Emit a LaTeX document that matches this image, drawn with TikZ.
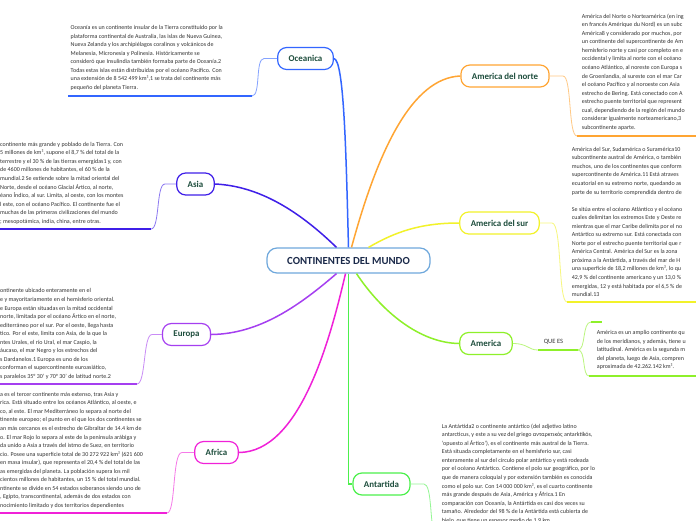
\documentclass[tikz,border=0pt]{standalone}
\usepackage{fontspec}
\setmainfont{Carlito}
\definecolor{oceC}{HTML}{3366FF}
\definecolor{asiaC}{HTML}{3F1FE8}
\definecolor{euroC}{HTML}{A53FF0}
\definecolor{afriC}{HTML}{F021D8}
\definecolor{antaC}{HTML}{4CF04C}
\definecolor{amerC}{HTML}{8EF02A}
\definecolor{surC}{HTML}{F2F22A}
\definecolor{norteC}{HTML}{FFA533}
\definecolor{cenC}{HTML}{6FA8DC}
\definecolor{lblC}{HTML}{1D4D3C}
\definecolor{titC}{HTML}{1B2A4A}
\definecolor{txtC}{HTML}{333333}
\tikzset{
  topic/.style={draw=#1, line width=1.2pt, rounded corners=9pt, fill=white,
    inner xsep=11pt, minimum height=22pt, text=lblC,
    font=\fontsize{8.9}{10}\selectfont\bfseries},
  desc/.style={anchor=north west, align=left, inner sep=0pt, text=txtC,
    font=\fontsize{6}{8.55}\selectfont},
  branch/.style={line width=1.5pt, draw=#1},
  twig/.style={line width=0.8pt, draw=#1!60},
  uline/.style={line width=1.5pt, draw=#1},
}
\begin{document}
\begin{tikzpicture}[x=1pt,y=-1pt]
  \useasboundingbox (0,0) rectangle (696,520);
  \clip (0,0) rectangle (696,520);
  \fill[white] (0,0) rectangle (696,520);

  % central topic
  \node[draw=cenC, line width=1.2pt, rounded corners=10pt, fill=white,
    minimum width=163pt, minimum height=25pt, text=titC,
    font=\fontsize{10.8}{12}\selectfont\bfseries] (cen) at (348.5,260.5) {CONTINENTES DEL MUNDO};

  % continents
  \foreach \x/\y/\name/\lbl/\col in {
      305.5/58.5/oce/Oceanica/oceC,
      195.5/184/asia/Asia/asiaC,
      186.5/334.5/euro/Europa/euroC,
      216.5/452.5/afri/Africa/afriC,
      381.5/484/anta/Antartida/antaC,
      505/76/norte/America del norte/norteC,
      499.5/223/sur/America del sur/surC,
      486/343.5/amer/America/amerC}
    \node[topic=\col] (\name) at (\x,\y) {\lbl};

  % branches from the centre
  \draw[branch=oceC] (cen.north) .. controls (346,150) and (344,60) .. (oce.east);
  \draw[branch=norteC] ([xshift=3pt]cen.north) .. controls (378,150) and (412,78) .. (norte.west);
  \draw[branch=surC] ([xshift=20pt]cen.north) .. controls (395,232) and (420,223) .. (sur.west);
  \draw[branch=asiaC] ([xshift=-12pt]cen.north) .. controls (300,212) and (260,186) .. (asia.east);
  \draw[branch=euroC] ([xshift=-12pt]cen.south) .. controls (300,305) and (260,334) .. (euro.east);
  \draw[branch=afriC] ([xshift=-3pt]cen.south) .. controls (330,340) and (300,452) .. (afri.east);
  \draw[branch=antaC] (cen.south) |- (anta.west);
  \draw[branch=amerC] ([xshift=8pt]cen.south) .. controls (382,312) and (420,343) .. (amer.west);

  % leaves to the notes
  \coordinate (oceU) at (252,96);
  \coordinate (asiaU) at (151,229);
  \coordinate (euroU) at (137,384);
  \coordinate (afriU) at (167,513);
  \coordinate (antaU) at (434,530);
  \coordinate (norteU) at (577,136);
  \coordinate (surU) at (567,302);
  \coordinate (queU) at (538,350);
  \coordinate (queV) at (578,350);
  \coordinate (amerU) at (589,376);
  \coordinate (amerW) at (591,322);
  \draw[twig=oceC] (oce.west) -- (264,58.5) .. controls (255,58.5) and (261,96) .. (oceU);
  \draw[uline=oceC] (oceU) -- (68,96);
  \draw[twig=asiaC] (asia.west) -- (165,184) .. controls (156,184) and (160,229) .. (asiaU);
  \draw[uline=asiaC] (asiaU) -- (0,229);
  \draw[twig=euroC] (euro.west) -- (152,334.5) .. controls (143,334.5) and (146,384) .. (euroU);
  \draw[uline=euroC] (euroU) -- (0,384);
  \draw[twig=afriC] (afri.west) -- (182,452.5) .. controls (172,452.5) and (176,513) .. (afriU);
  \draw[uline=afriC] (afriU) -- (0,513);
  \draw[twig=antaC] (anta.east) -- (424,484) .. controls (432,484) and (430,525) .. (antaU);
  \draw[twig=norteC] (norte.east) -- (563,76) .. controls (572,76) and (568,136) .. (norteU);
  \draw[uline=norteC] (norteU) -- (696,136);
  \draw[twig=surC] (sur.east) -- (552,223) .. controls (562,223) and (558,302) .. (surU);
  \draw[uline=surC] (surU) -- (696,302);
  \draw[twig=amerC] (amer.east) .. controls (528,343.5) and (528,350) .. (queU);
  \draw[uline=amerC] (queU) -- (queV);
  \draw[twig=amerC] (queV) .. controls (586,350) and (582,322) .. (amerW);
  \draw[uline=amerC] (amerW) -- (602,322);
  \draw[twig=amerC] (queV) .. controls (586,350) and (582,376) .. (amerU);
  \draw[uline=amerC] (amerU) -- (696,376);
  \node[text=txtC, inner sep=0pt, font=\fontsize{6.5}{8}\selectfont] (que) at (553.5,342.3) {QUE ES};

  % notes
  \node[desc] (oceTxt) at (70.5,25.2) {Oceanía es un continente insular de la Tierra constituido por la\\
plataforma continental de Australia, las islas de Nueva Guinea,\\
Nueva Zelanda y los archipiélagos coralinos y volcánicos de\\
Melanesia, Micronesia y Polinesia. Históricamente se\\
consideró que Insulindia también formaba parte de Oceanía.2\\
Todas estas islas están distribuidas por el océano Pacífico. Con\\
una extensión de 8 542 499 km²,1 se trata del continente más\\
pequeño del planeta Tierra.};
  \node[desc] (asiaTxt) at (0,141.9) {continente más grande y poblado de la Tierra. Con\\
5 millones de km², supone el 8,7 \% del total de la\\
terrestre y el 30 \% de las tierras emergidas1 y, con\\
de 4600 millones de habitantes, el 60 \% de la\\
mundial.2 Se extiende sobre la mitad oriental del\\
Norte, desde el océano Glacial Ártico, al norte,\\
éano Índico, al sur. Limita, al oeste, con los montes\\
l este, con el océano Pacífico. El continente fue el\\
muchas de las primeras civilizaciones del mundo\\
; mesopotámica, india, china, entre otras.};
  \node[desc] (euroTxt) at (0,288.6) {ontinente ubicado enteramente en el\\
e y mayoritariamente en el hemisferio oriental.\\
e Europa están situadas en la mitad occidental\\
norte, limitada por el océano Ártico en el norte,\\
editerráneo por el sur. Por el oeste, llega hasta\\
tico. Por el este, limita con Asia, de la que la\\
ntes Urales, el río Ural, el mar Caspio, la\\
áucaso, el mar Negro y los estrechos del\\
s Dardanelos.1 Europa es uno de los\\
conforman el supercontinente euroasiático,\\
s paralelos 35° 30' y 70° 30' de latitud norte.2};
  \node[desc] (afriTxt) at (0,391.9) {a es el tercer continente más extenso, tras Asia y\\
rica. Está situado entre los océanos Atlántico, al oeste, e\\
co, al este. El mar Mediterráneo lo separa al norte del\\
tinente europeo; el punto en el que los dos continentes se\\
an más cercanos es el estrecho de Gibraltar de 14.4 km de\\
o. El mar Rojo lo separa al este de la península arábiga y\\
da unido a Asia a través del istmo de Suez, en territorio\\
cio. Posee una superficie total de 30 272 922 km² (621 600\\
en masa insular), que representa el 20,4 \% del total de las\\
as emergidas del planeta. La población supera los mil\\
cientos millones de habitantes, un 15 \% del total mundial.\\
ntinente se divide en 54 estados soberanos siendo uno de\\
, Egipto, transcontinental, además de dos estados con\\
nocimiento limitado y dos territorios dependientes};
  \node[desc] (antaTxt) at (441.7,423.6) {La Antártida2 o continente antártico (del adjetivo latino\\
antarcticus, y este a su vez del griego ανταρκτικός antarktikós,\\
‘opuesto al Ártico’), es el continente más austral de la Tierra.\\
Está situada completamente en el hemisferio sur, casi\\
enteramente al sur del círculo polar antártico y está rodeada\\
por el océano Antártico. Contiene el polo sur geográfico, por lo\\
que de manera coloquial y por extensión también es conocida\\
como el polo sur. Con 14 000 000 km², es el cuarto continente\\
más grande después de Asia, América y África.1 En\\
comparación con Oceanía, la Antártida es casi dos veces su\\
tamaño. Alrededor del 98 \% de la Antártida está cubierta de\\
hielo, que tiene un espesor medio de 1,9 km,};
  \node[desc] (norteTxt) at (581.7,13.6) {América del Norte o Norteamérica (en ing\\
en francés Amérique du Nord) es un subc\\
América8 y considerado por muchos, por\\
un continente del supercontinente de Am\\
hemisferio norte y casi por completo en e\\
occidental y limita al norte con el océano\\
océano Atlántico, al noreste con Europa s\\
de Groenlandia, al sureste con el mar Car\\
el océano Pacífico y al noroeste con Asia\\
estrecho de Bering. Está conectado con A\\
estrecho puente territorial que represent\\
cual, dependiendo de la región del mundo\\
considerar igualmente norteamericano,3\\
subcontinente aparte.};
  \node[desc] (surTxt) at (571.7,146.9) {América del Sur, Sudamérica o Suramérica10\\
subcontinente austral de América, o también\\
muchos, uno de los continentes que conform\\
supercontinente de América.11 Está atraves\\
ecuatorial en su extremo norte, quedando as\\
parte de su territorio comprendida dentro de\\[8.55pt]
Se sitúa entre el océano Atlántico y el océano\\
cuales delimitan los extremos Este y Oeste re\\
mientras que el mar Caribe delimita por el no\\
Antártico su extremo sur. Está conectada con\\
Norte por el estrecho puente territorial que r\\
América Central. América del Sur es la zona\\
próxima a la Antártida, a través del mar de H\\
una superficie de 18,2 millones de km², lo qu\\
42,9 \% del continente americano y un 13,0 \%\\
emergidas, 12 y está habitada por el 6,5 \% de\\
mundial.13};
  \node[desc] (amerTxt) at (596.7,330.2) {América es un amplio continente qu\\
de los meridianos, y además, tiene u\\
latitudinal. América es la segunda m\\
del planeta, luego de Asia, compren\\
aproximada de 42.262.142 km².};
\end{tikzpicture}
\end{document}
